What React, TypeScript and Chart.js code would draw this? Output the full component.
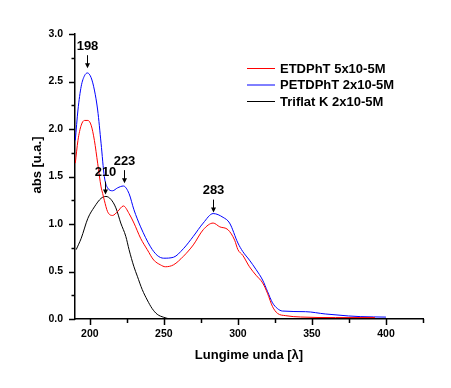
import React, { useEffect, useRef } from 'react';
import { Chart, registerables } from 'chart.js';
Chart.register(...registerables);

const seriesLabels = ['ETDPhT 5x10-5M', 'PETDPhT 2x10-5M', 'Triflat K 2x10-5M'];
const seriesColors = ['#ff0000', '#0000ff', '#000000'];

const etdWl = [190.2, 192, 194.2, 196.4, 198.7, 200.9, 203.1, 205.3, 207.6, 208.7, 209.8, 212, 215.4, 218.7, 222.7, 226.5, 229.8, 234.3, 238.8, 243.2, 247.7, 251, 256.5, 263.2, 269.9, 276.6, 283.3, 287.8, 293.3, 297.8, 300, 303.3, 307.8, 312.3, 316.7, 320, 323.4, 326.7, 332.3, 342.4, 365.8, 392.5];
const etdAbs = [1.64, 1.88, 2.04, 2.09, 2.09, 2.04, 1.88, 1.64, 1.39, 1.32, 1.25, 1.13, 1.09, 1.13, 1.19, 1.11, 1.01, 0.85, 0.73, 0.62, 0.57, 0.55, 0.57, 0.66, 0.78, 0.94, 1.01, 0.97, 0.94, 0.83, 0.73, 0.67, 0.55, 0.46, 0.38, 0.27, 0.13, 0.06, 0.035, 0.021, 0.015, 0.015];

const petdWl = [190.2, 192, 194.2, 196.4, 198.4, 200.9, 203.1, 205.3, 207.6, 209.8, 212, 215.4, 218.7, 222.7, 226.5, 229.8, 234.3, 241, 245.5, 249.9, 256.5, 263.2, 269.9, 276.6, 283.3, 290, 294.4, 300, 303.3, 307.8, 312.3, 316.7, 320, 323.4, 326.7, 330, 345.7, 359, 374.7, 383, 400];
const petdAbs = [1.88, 2.2, 2.45, 2.56, 2.59, 2.54, 2.41, 2.2, 1.85, 1.5, 1.38, 1.35, 1.38, 1.4, 1.32, 1.15, 0.97, 0.76, 0.67, 0.64, 0.65, 0.74, 0.87, 1.01, 1.11, 1.07, 1.01, 0.8, 0.71, 0.62, 0.52, 0.41, 0.29, 0.17, 0.11, 0.084, 0.077, 0.053, 0.032, 0.025, 0.02];

const triWl = [190.8, 194.2, 198.7, 203.1, 207.6, 210.9, 214.2, 217.6, 220.9, 224.3, 226.5, 229.8, 232.1, 235.4, 238.8, 242.1, 245.5, 249.9, 253.2];
const triAbs = [0.73, 0.85, 1.06, 1.18, 1.27, 1.29, 1.26, 1.17, 1.01, 0.87, 0.73, 0.55, 0.45, 0.31, 0.2, 0.11, 0.05, 0.018, 0.003];

const xTickValues = [200, 225, 250, 275, 300, 325, 350, 375, 400, 425];
const yTickValues = [0, 0.25, 0.5, 0.75, 1, 1.25, 1.5, 1.75, 2, 2.25, 2.5, 2.75, 3];

const annoLabels = ['198', '210', '223', '283'];
const annoX = [198, 210, 223, 283];
const annoTip = [2.64, 1.31, 1.43, 1.12];

const FONT = '"Liberation Sans", Arial, sans-serif';

const pts = (xs: number[], ys: number[]) => xs.map((x, i) => ({ x, y: ys[i] }));

const overlay = {
  id: 'overlay',
  afterDraw(chart: any) {
    const ctx = chart.ctx;
    const xs = chart.scales.x;
    const ys = chart.scales.y;
    const area = chart.chartArea;
    ctx.save();
    ctx.strokeStyle = '#000';
    ctx.lineWidth = 1.5;
    // x ticks
    xTickValues.forEach((v) => {
      const px = Math.round(xs.getPixelForValue(v)) + 0.5;
      const len = v % 50 === 0 ? 6 : 4;
      ctx.beginPath();
      ctx.moveTo(px, area.bottom);
      ctx.lineTo(px, area.bottom + len);
      ctx.stroke();
    });
    yTickValues.forEach((v) => {
      const py = Math.round(ys.getPixelForValue(v)) + 0.5;
      const len = Math.abs(v * 2 - Math.round(v * 2)) < 1e-6 ? 6 : 3.5;
      ctx.beginPath();
      ctx.moveTo(area.left, py);
      ctx.lineTo(area.left - len, py);
      ctx.stroke();
    });
    // legend
    ctx.lineWidth = 1;
    ctx.font = 'bold 13px ' + FONT;
    ctx.textBaseline = 'middle';
    ctx.textAlign = 'left';
    const legY = [68, 84.5, 101];
    chart.data.datasets.forEach((ds: any, i: number) => {
      ctx.strokeStyle = ds.borderColor;
      ctx.beginPath();
      ctx.moveTo(247, legY[i] + 0.5);
      ctx.lineTo(275, legY[i] + 0.5);
      ctx.stroke();
      ctx.fillStyle = '#000';
      ctx.fillText(ds.label, 280, legY[i] + 1);
    });
    // annotations
    ctx.strokeStyle = '#000';
    ctx.fillStyle = '#000';
    ctx.textAlign = 'center';
    ctx.font = 'bold 13px ' + FONT;
    annoLabels.forEach((lab, i) => {
      const px = Math.round(xs.getPixelForValue(annoX[i])) + 0.5;
      const tip = ys.getPixelForValue(annoTip[i]);
      ctx.beginPath();
      ctx.moveTo(px, tip - 13);
      ctx.lineTo(px, tip - 4);
      ctx.stroke();
      ctx.beginPath();
      ctx.moveTo(px - 2.5, tip - 5);
      ctx.lineTo(px + 2.5, tip - 5);
      ctx.lineTo(px, tip);
      ctx.closePath();
      ctx.fill();
      ctx.fillText(lab, px, tip - 22);
    });
    // y title
    ctx.save();
    ctx.translate(37, 165);
    ctx.rotate(-Math.PI / 2);
    ctx.textAlign = 'center';
    ctx.textBaseline = 'middle';
    ctx.font = 'bold 13px ' + FONT;
    ctx.fillText('abs [u.a.]', 0, 0);
    ctx.restore();
    ctx.restore();
  },
};

export default function App() {
  const ref = useRef<HTMLCanvasElement>(null);
  useEffect(() => {
    document.body.style.margin = '0';
    const chart = new Chart(ref.current as HTMLCanvasElement, {
      type: 'line',
      data: {
        datasets: [
          { label: seriesLabels[0], data: pts(etdWl, etdAbs), borderColor: seriesColors[0] },
          { label: seriesLabels[1], data: pts(petdWl, petdAbs), borderColor: seriesColors[1] },
          { label: seriesLabels[2], data: pts(triWl, triAbs), borderColor: seriesColors[2] },
        ].map((d) => ({ ...d, borderWidth: 1, pointRadius: 0, fill: false, cubicInterpolationMode: 'monotone' as const })),
      },
      options: {
        animation: false,
        responsive: false,
        layout: { padding: { left: 0, right: 28, top: 34, bottom: 0 } },
        plugins: { legend: { display: false }, tooltip: { enabled: false } },
        scales: {
          x: {
            type: 'linear',
            min: 190,
            max: 425,
            afterBuildTicks: (s: any) => { s.ticks = xTickValues.map((v) => ({ value: v })); },
            afterFit: (s: any) => { s.height = 69; },
            ticks: {
              autoSkip: false,
              maxRotation: 0,
              padding: 3,
              color: '#000',
              font: { family: FONT, size: 10.5, weight: 'bold' },
              callback: (v: any) => (Number(v) % 50 === 0 ? String(v) : ''),
            },
            grid: { display: true, drawOnChartArea: false, drawTicks: true, tickLength: 6, tickColor: 'rgba(0,0,0,0)', color: 'rgba(0,0,0,0)' },
            border: { display: true, color: '#000', width: 1.5 },
            title: {
              display: true,
              text: 'Lungime unda [λ]',
              color: '#000',
              font: { family: FONT, size: 13, weight: 'bold' },
              padding: { top: 0, bottom: 25 },
            },
          },
          y: {
            type: 'linear',
            min: 0,
            max: 3,
            afterBuildTicks: (s: any) => { s.ticks = yTickValues.map((v) => ({ value: v })); },
            afterFit: (s: any) => { s.width = 75; },
            ticks: {
              autoSkip: false,
              padding: 6,
              color: '#000',
              font: { family: FONT, size: 10.5, weight: 'bold' },
              callback: (v: any) => (Math.abs(Number(v) * 2 - Math.round(Number(v) * 2)) < 1e-6 ? Number(v).toFixed(1) : ''),
            },
            grid: { display: true, drawOnChartArea: false, drawTicks: true, tickLength: 6, tickColor: 'rgba(0,0,0,0)', color: 'rgba(0,0,0,0)' },
            border: { display: true, color: '#000', width: 1.5 },
          },
        },
      },
      plugins: [overlay],
    });
    return () => chart.destroy();
  }, []);
  return <canvas ref={ref} width={451} height={388} style={{ display: 'block', width: 451, height: 388 }} />;
}
